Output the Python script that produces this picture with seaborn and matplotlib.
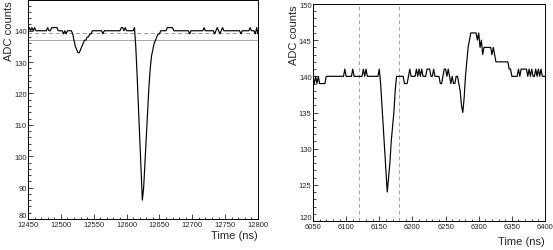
import matplotlib
matplotlib.use("Agg")
import matplotlib.pyplot as plt
import matplotlib.transforms as mtransforms
import numpy as np
import pandas as pd
import seaborn as sns
from matplotlib.ticker import MultipleLocator

# --- data (2 ns sampling) ---
left_time = np.arange(12450, 12801, 2)
left_adc = [
    140, 141, 140, 141, 140, 141, 140, 140, 140, 140,
    140, 140, 140, 140, 140, 141, 140, 140, 141, 141,
    141, 141, 141, 140, 140, 140, 140, 139, 140, 139,
    140, 140, 140, 140, 139, 137, 135, 134, 133, 133,
    134, 135, 136, 137, 137, 138, 138, 139, 139, 140,
    140, 140, 140, 140, 140, 140, 140, 139, 140, 140,
    140, 140, 140, 140, 140, 140, 140, 140, 140, 140,
    140, 141, 141, 140, 141, 140, 140, 140, 140, 140,
    140, 141, 135, 126, 116, 106, 96, 86, 90, 98,
    106, 114, 122, 128, 132, 134, 136, 137, 138, 139,
    139, 140, 140, 140, 140, 140, 141, 141, 141, 141,
    141, 140, 140, 140, 140, 140, 140, 140, 140, 140,
    140, 140, 140, 139, 140, 140, 140, 140, 140, 140,
    140, 140, 140, 140, 141, 140, 140, 140, 140, 140,
    140, 140, 139, 140, 141, 140, 139, 140, 141, 140,
    140, 140, 140, 140, 140, 140, 140, 140, 140, 140,
    140, 140, 139, 140, 140, 140, 140, 140, 140, 141,
    140, 140, 140, 139, 141, 139,
]
left_mean = 139.2
left_threshold = 137.0

right_time = np.arange(6050, 6401, 2)
right_adc = [
    140, 139, 140, 139, 140, 139, 139, 139, 139, 139,
    140, 140, 140, 140, 140, 140, 140, 140, 140, 140,
    140, 140, 140, 140, 141, 140, 140, 140, 140, 140,
    141, 140, 140, 140, 140, 140, 140, 140, 141, 140,
    141, 140, 140, 140, 140, 140, 140, 140, 140, 140,
    141, 139, 136, 133, 130, 127, 124, 126, 128, 131,
    133, 135, 138, 140, 140, 140, 140, 140, 140, 139,
    139, 139, 140, 141, 140, 140, 140, 140, 141, 140,
    141, 140, 141, 140, 140, 140, 141, 141, 141, 140,
    140, 141, 140, 140, 140, 140, 139, 139, 140, 141,
    141, 140, 141, 140, 139, 140, 139, 139, 140, 140,
    139, 138, 136, 135, 137, 140, 142, 144, 145, 146,
    146, 146, 146, 146, 145, 146, 144, 145, 143, 144,
    144, 144, 144, 144, 144, 143, 144, 143, 142, 142,
    142, 142, 142, 142, 142, 142, 142, 142, 141, 141,
    140, 140, 140, 140, 140, 141, 140, 141, 141, 141,
    141, 141, 140, 141, 140, 141, 140, 140, 141, 140,
    141, 140, 141, 140, 140, 140,
]
right_window = [6120, 6180]

left_df = pd.DataFrame({"time": left_time, "adc": left_adc})
right_df = pd.DataFrame({"time": right_time, "adc": right_adc})

sns.set_theme(style="ticks", rc={
    "xtick.direction": "in", "ytick.direction": "in",
    "xtick.major.size": 3.6, "ytick.major.size": 3.6,
    "xtick.minor.size": 1.8, "ytick.minor.size": 1.8,
    "xtick.major.width": 0.6, "ytick.major.width": 0.6,
    "xtick.minor.width": 0.6, "ytick.minor.width": 0.6,
    "axes.linewidth": 0.7, "axes.edgecolor": "black",
})
plt.rcParams["font.family"] = ["Liberation Sans", "DejaVu Sans"]

W, H = 553, 251
fig = plt.figure(figsize=(W / 100, H / 100), dpi=100)

ax1 = fig.add_axes([28 / W, (H - 220) / H, 230 / W, 219 / H])
ax2 = fig.add_axes([313 / W, (H - 222) / H, 232 / W, 217 / H])

# left panel: waveform with baseline and threshold
ax1.axhline(left_mean, color="0.6", lw=0.7, ls=(0, (4, 3)))
ax1.axhline(left_threshold, color="0.65", lw=0.7)
sns.lineplot(data=left_df, x="time", y="adc", ax=ax1, color="black",
             lw=0.85, estimator=None)
ax1.set_xlim(12450, 12800)
ax1.set_ylim(80, 149.8)
ax1.xaxis.set_major_locator(MultipleLocator(50))
ax1.xaxis.set_minor_locator(MultipleLocator(10))
ax1.yaxis.set_major_locator(MultipleLocator(10))
ax1.yaxis.set_minor_locator(MultipleLocator(2))

# right panel: waveform with integration window
for t in right_window:
    ax2.axvline(t, color="0.65", lw=0.7, ls=(0, (4, 3)))
sns.lineplot(data=right_df, x="time", y="adc", ax=ax2, color="black",
             lw=0.85, estimator=None)
ax2.set_xlim(6050, 6400)
ax2.set_ylim(120, 150)
ax2.xaxis.set_major_locator(MultipleLocator(50))
ax2.xaxis.set_minor_locator(MultipleLocator(10))
ax2.yaxis.set_major_locator(MultipleLocator(5))
ax2.yaxis.set_minor_locator(MultipleLocator(1))

raise_lbl = mtransforms.ScaledTranslation(0, 3 / 72, fig.dpi_scale_trans)
for ax, xlab_y in ((ax1, -0.048), (ax2, -0.068)):
    ax.tick_params(axis="x", which="major", labelsize=5.5, pad=1.5)
    ax.tick_params(axis="y", which="major", labelsize=5.5, pad=1)
    ax.set_xlabel("Time (ns)", fontsize=8, loc="right")
    ax.set_ylabel("ADC counts", fontsize=8, loc="top")
    ax.xaxis.set_label_coords(1.0, xlab_y)
    ax.yaxis.set_label_coords(-0.062, 1.0)
    for s in ax.spines.values():
        s.set_visible(True)
    # bottom y label sits a bit higher, as in the original, to clear the corner
    fig.canvas.draw()
    lbl = ax.get_yticklabels()[0]
    for tl in ax.yaxis.get_major_ticks():
        if abs(tl.get_loc() - ax.get_ylim()[0]) < 1e-6:
            tl.label1.set_transform(tl.label1.get_transform() + raise_lbl)

fig.savefig("out.png", dpi=100)
